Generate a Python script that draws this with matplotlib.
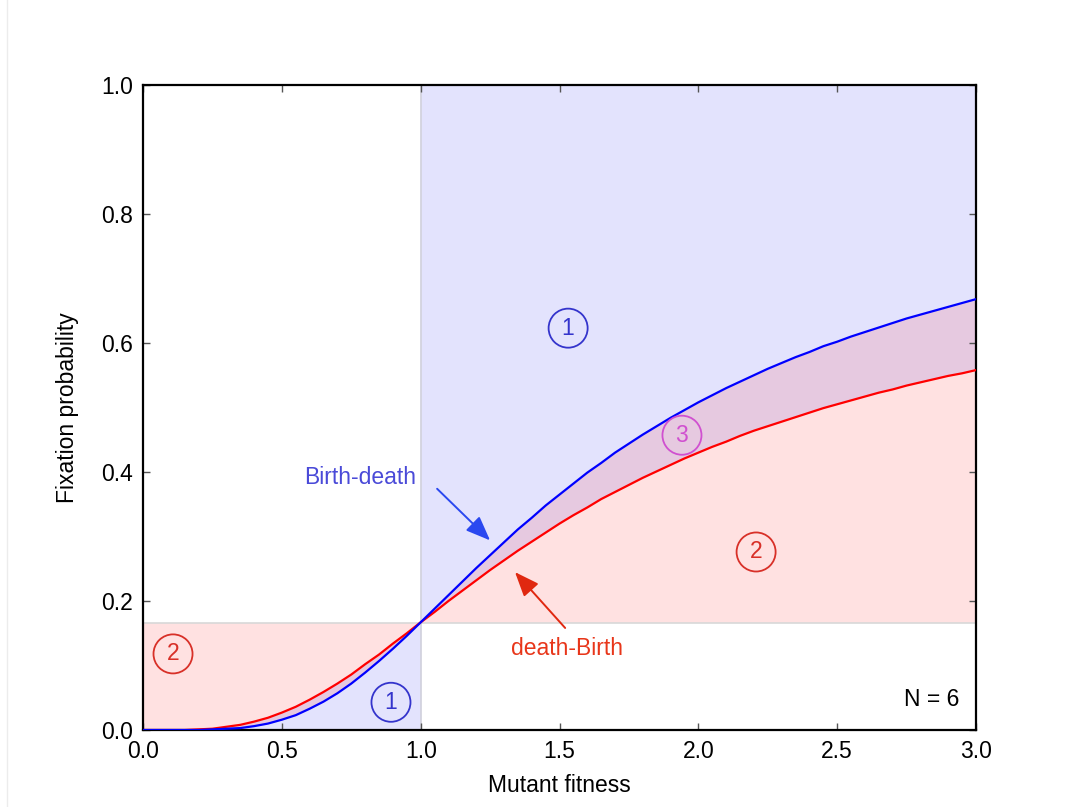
import numpy as np
import matplotlib
matplotlib.use("Agg")
from matplotlib import pyplot as plt
from matplotlib.lines import Line2D

plt.rcParams['font.family'] = ['Liberation Sans', 'DejaVu Sans']

# values (N = 6), every 0.05 in fitness
fitness = [0.00, 0.05, 0.10, 0.15, 0.20, 0.25, 0.30, 0.35, 0.40, 0.45,
           0.50, 0.55, 0.60, 0.65, 0.70, 0.75, 0.80, 0.85, 0.90, 0.95,
           1.00, 1.05, 1.10, 1.15, 1.20, 1.25, 1.30, 1.35, 1.40, 1.45,
           1.50, 1.55, 1.60, 1.65, 1.70, 1.75, 1.80, 1.85, 1.90, 1.95,
           2.00, 2.05, 2.10, 2.15, 2.20, 2.25, 2.30, 2.35, 2.40, 2.45,
           2.50, 2.55, 2.60, 2.65, 2.70, 2.75, 2.80, 2.85, 2.90, 2.95,
           3.00]
birth_death = [0.000, 0.000, 0.000, 0.000, 0.000, 0.001, 0.002, 0.003, 0.006, 0.010,
               0.016, 0.023, 0.033, 0.044, 0.057, 0.072, 0.089, 0.107, 0.126, 0.146,
               0.167, 0.188, 0.209, 0.230, 0.251, 0.271, 0.291, 0.311, 0.329, 0.348,
               0.365, 0.382, 0.399, 0.414, 0.430, 0.444, 0.458, 0.471, 0.484, 0.496,
               0.508, 0.519, 0.530, 0.540, 0.550, 0.560, 0.569, 0.578, 0.586, 0.595,
               0.602, 0.610, 0.617, 0.624, 0.631, 0.638, 0.644, 0.650, 0.656, 0.662,
               0.668]
death_birth = [0.000, 0.000, 0.000, 0.000, 0.001, 0.002, 0.005, 0.008, 0.013, 0.019,
               0.027, 0.036, 0.047, 0.059, 0.072, 0.086, 0.102, 0.117, 0.134, 0.150,
               0.167, 0.183, 0.200, 0.216, 0.232, 0.248, 0.263, 0.278, 0.292, 0.306,
               0.320, 0.333, 0.345, 0.358, 0.369, 0.380, 0.391, 0.401, 0.411, 0.421,
               0.430, 0.439, 0.447, 0.456, 0.464, 0.471, 0.478, 0.485, 0.492, 0.499,
               0.505, 0.511, 0.517, 0.523, 0.528, 0.534, 0.539, 0.544, 0.549, 0.553,
               0.558]
neutral = 1 / 6
pop_label = "N = 6"

x = np.array(fitness)
bd = np.array(birth_death)
db = np.array(death_birth)
lo = x <= 1.0
hi = x >= 1.0

fig = plt.figure(figsize=(10.73, 8.07), dpi=100)
ax = fig.add_axes([0.1333, 0.0954, 0.7763, 0.7993])

blue_fill = '#0000ee'
red_fill = '#ff3030'
a_b, a_r = 0.11, 0.14

# region 1 (blue) and region 2 (red); overlap gives region 3
ax.fill_between(x[lo], 0, db[lo], color=blue_fill, alpha=a_b, lw=0)
ax.fill_between(x[hi], db[hi], 1.0, color=blue_fill, alpha=a_b, lw=0)
ax.fill_between(x[lo], bd[lo], neutral, color=red_fill, alpha=a_r, lw=0)
ax.fill_between(x[hi], neutral, bd[hi], color=red_fill, alpha=a_r, lw=0)

ax.axhline(neutral, color='#d8d8d8', lw=1.2, zorder=1)
ax.axvline(1.0, color='#d0d0dc', lw=1.2, zorder=1)

ax.plot(x, db, color='#ff0000', lw=1.6, zorder=3)
ax.plot(x, bd, color='#0000ff', lw=1.6, zorder=4)

# circled region numbers
circles = [(1.531, 0.623, '1', '#3434cc'),
           (0.893, 0.043, '1', '#3434cc'),
           (2.208, 0.276, '2', '#d83028'),
           (0.108, 0.118, '2', '#d83028'),
           (1.941, 0.457, '3', '#d050d0')]
for cx, cy, lab, col in circles:
    ax.scatter([cx], [cy], s=790, facecolors='none', edgecolors=col,
               linewidths=1.3, zorder=5)
    ax.text(cx, cy, lab, color=col, fontsize=16.5, ha='center', va='center',
            zorder=6)

arrow_style = '-|>,head_length=0.75,head_width=0.3'
ax.annotate('', xy=(1.257, 0.291), xytext=(1.052, 0.377),
            arrowprops=dict(arrowstyle=arrow_style, mutation_scale=20,
                            color='#2a48f0', lw=1.4), zorder=6)
ax.text(0.781, 0.392, 'Birth-death', color='#4a4ad8', fontsize=16.5,
        ha='center', va='center')
ax.annotate('', xy=(1.333, 0.248), xytext=(1.527, 0.155),
            arrowprops=dict(arrowstyle=arrow_style, mutation_scale=20,
                            color='#e02810', lw=1.4), zorder=6)
ax.text(1.527, 0.127, 'death-Birth', color='#e8361a', fontsize=16.5,
        ha='center', va='center')

ax.text(2.939, 0.047, pop_label, fontsize=16.5, ha='right', va='center')

ax.set_xlim(0, 3)
ax.set_ylim(0, 1)
ax.set_xticks([0, 0.5, 1.0, 1.5, 2.0, 2.5, 3.0])
ax.set_yticks([0, 0.2, 0.4, 0.6, 0.8, 1.0])
ax.xaxis.set_major_formatter(matplotlib.ticker.FormatStrFormatter('%.1f'))
ax.yaxis.set_major_formatter(matplotlib.ticker.FormatStrFormatter('%.1f'))
ax.tick_params(direction='in', length=5, width=1, color='#555555',
               labelsize=16.5, top=True, right=True)
ax.tick_params(axis='x', pad=7)
ax.tick_params(axis='y', pad=7)
for sp in ax.spines.values():
    sp.set_linewidth(1.6)

ax.set_xlabel('Mutant fitness', fontsize=16.5, labelpad=8)
ax.set_ylabel('Fixation probability', fontsize=16.5, labelpad=16)

fig.add_artist(Line2D([0.0065, 0.0065], [0.0, 1.0], color='#ececec', lw=1))

fig.savefig('out.png', dpi=100)
